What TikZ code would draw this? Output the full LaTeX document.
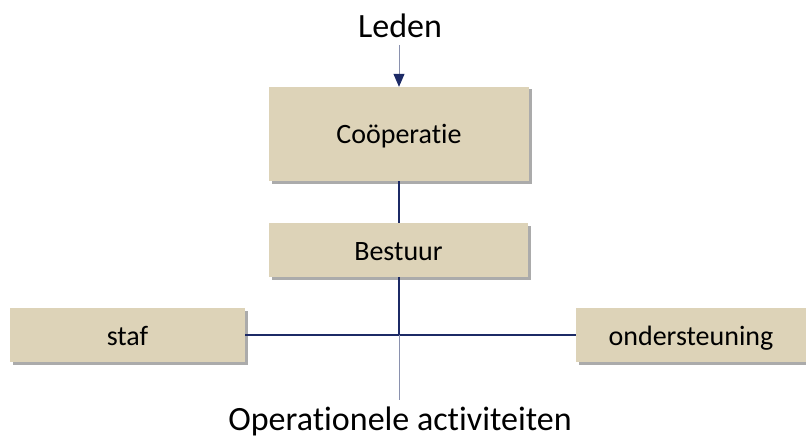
\documentclass[tikz,border=0pt]{standalone}
\usepackage{fontspec}
\setmainfont{Carlito}[Ligatures=NoCommon]
\usetikzlibrary{shadows,arrows.meta}
\definecolor{boxfill}{HTML}{DDD3B8}
\definecolor{navy}{HTML}{1C2A66}
\definecolor{paleline}{HTML}{8A91AE}
\begin{document}
\begin{tikzpicture}[x=1pt,y=-1pt,
  orgbox/.style={fill=boxfill, draw=none, minimum width=#1, inner sep=0pt,
    font=\fontsize{28}{32}\selectfont, text height=22pt, text depth=2pt,
    drop shadow={shadow xshift=2.5pt, shadow yshift=-2.5pt, opacity=0.55, fill=black!60}},
  bigtext/.style={font=\fontsize{34}{40}\selectfont, inner sep=0pt},
  navyline/.style={draw=navy, line width=1.4pt},
  paleln/.style={draw=paleline, line width=1pt}]
\useasboundingbox (0,0) rectangle (806,441);
\node[bigtext] (leden) at (400,26) {Leden};
\node[orgbox=260pt, minimum height=94pt] (coop) at (399,134) {Coöperatie};
\node[orgbox=259pt, minimum height=54pt] (best) at (398.5,250) {Bestuur};
\node[orgbox=235pt, minimum height=54pt] (staf) at (127.5,335) {staf};
\node[orgbox=230pt, minimum height=54pt] (onder) at (691,335) {ondersteuning};
\node[bigtext] (oper) at (400,421) {Operationele activiteiten};
\coordinate (ledenbot) at (399,45);
\coordinate (cross) at (399,335);
\coordinate (opertop) at (399,400);
\draw[paleln, -{Triangle[length=13pt,width=11pt,color=navy]}] (ledenbot) -- (coop.north -| ledenbot);
\draw[navyline] (coop.south -| ledenbot) -- (best.north -| ledenbot);
\draw[navyline] (best.south -| ledenbot) -- (cross);
\draw[navyline] (staf.east) -- (onder.west);
\draw[paleln] (cross) -- (opertop);
\end{tikzpicture}
\end{document}
